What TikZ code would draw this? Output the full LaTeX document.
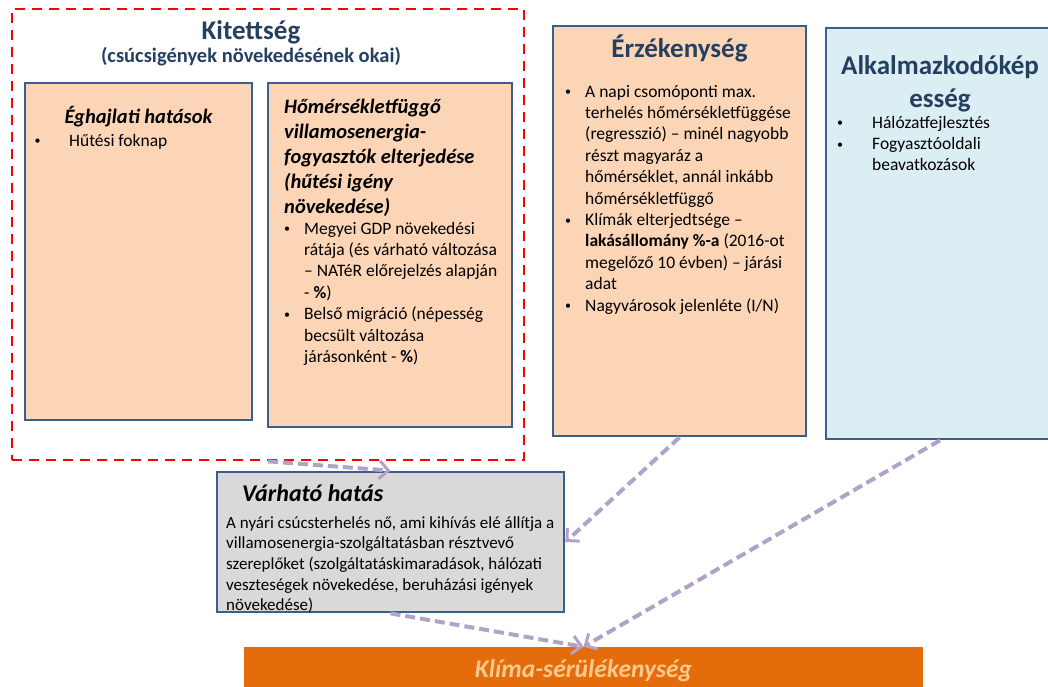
\documentclass[tikz,border=0pt]{standalone}
\usepackage{fontspec}
\setmainfont{Carlito}
\usetikzlibrary{arrows.meta}
\definecolor{peach}{HTML}{FBD5B5}
\definecolor{lblue}{HTML}{DBEEF4}
\definecolor{lgray}{HTML}{D9D9D9}
\definecolor{bord}{HTML}{3A5F8B}
\definecolor{ttl}{HTML}{243F60}
\definecolor{lav}{HTML}{B3A2C7}
\definecolor{orng}{HTML}{E46C0A}
\definecolor{klt}{HTML}{FCC88E}
\newcommand{\smallbul}{\raisebox{1.2pt}{\fontsize{12}{12}\selectfont\textbullet}}
\begin{document}
\begin{tikzpicture}[x=1pt,y=-1pt,
  box/.style={draw=bord, line width=2.7pt, inner sep=0pt},
  txt/.style={inner sep=0pt, anchor=base west},
  ctr/.style={inner sep=0pt, anchor=base},
  body/.style={font=\fontsize{17.5}{21.4}\selectfont},
  conn/.style={draw=lav, line width=4pt, dash pattern=on 10pt off 5pt,
    -{Straight Barb[length=9pt,width=18pt,line width=3pt]}}]
\useasboundingbox (0,0) rectangle (1048,686);
% boxes
\node[draw=red, line width=2.7pt, dash pattern=on 10pt off 7pt, minimum width=512pt, minimum height=451pt, inner sep=0pt] (kit) at (268,234.5) {};
\node[box, fill=peach, minimum width=227pt, minimum height=337pt] (egh) at (138.5,251.5) {};
\node[box, fill=peach, minimum width=244pt, minimum height=344pt] (hom) at (390,255) {};
\node[box, fill=peach, minimum width=253pt, minimum height=410pt] (erz) at (679.5,231) {};
\node[box, fill=lblue, minimum width=228pt, minimum height=411pt] (alk) at (940,233.5) {};
\node[box, fill=lgray, minimum width=347pt, minimum height=140pt] (varh) at (390.5,542) {};
\node[fill=orng, minimum width=679pt, minimum height=53pt, inner sep=0pt] (klima) at (583.5,673.5) {};
% texts
\node[ctr, font=\fontsize{27}{33}\selectfont\bfseries, text=ttl] (kitT) at (251,39) {Kitettség};
\node[ctr, font=\fontsize{20.5}{24}\selectfont\bfseries, text=ttl] (kitS) at (251,62) {(csúcsigények növekedésének okai)};
\node[ctr, font=\fontsize{20.5}{25}\selectfont\bfseries\itshape] (eghT) at (138.5,123) {Éghajlati hatások};
\node[txt, body] (eghB) at (34.5,146) {\begin{tabular}[t]{@{}p{34.5pt}@{}l@{}}\smallbul&Hűtési foknap\end{tabular}};
\node[txt, font=\fontsize{20.5}{25}\selectfont\bfseries\itshape] (homT) at (284,113.5) {\begin{tabular}[t]{@{}l@{}}Hőmérsékletfüggő\\villamosenergia-\\fogyasztók elterjedése\\(hűtési igény\\növekedése)\end{tabular}};
\node[txt, body] (homB) at (284,234) {\begin{tabular}[t]{@{}p{20pt}@{}l@{}}\smallbul&Megyei GDP növekedési\\&rátája (és várható változása\\&– NATéR előrejelzés alapján\\&- \textbf{\%})\\\smallbul&Belső migráció (népesség\\&becsült változása\\&járásonként - \textbf{\%})\end{tabular}};
\node[ctr, font=\fontsize{27}{33}\selectfont\bfseries, text=ttl] (erzT) at (679.5,57) {Érzékenység};
\node[txt, body] (erzB) at (565,97) {\begin{tabular}[t]{@{}p{20pt}@{}l@{}}\smallbul&A napi csomóponti max.\\&terhelés hőmérsékletfüggése\\&(regresszió) – minél nagyobb\\&részt magyaráz a\\&hőmérséklet, annál inkább\\&hőmérsékletfüggő\\\smallbul&Klímák elterjedtsége –\\&\textbf{lakásállomány \%-a} (2016-ot\\&megelőző 10 évben) – járási\\&adat\\\smallbul&Nagyvárosok jelenléte (I/N)\end{tabular}};
\node[ctr, font=\fontsize{27}{33}\selectfont\bfseries, text=ttl] (alkT) at (940,74) {\begin{tabular}[t]{@{}c@{}}Alkalmazkodókép\\esség\end{tabular}};
\node[txt, body] (alkB) at (837,128) {\begin{tabular}[t]{@{}p{35pt}@{}l@{}}\smallbul&Hálózatfejlesztés\\\smallbul&Fogyasztóoldali\\&beavatkozások\end{tabular}};
\node[txt, font=\fontsize{24}{29}\selectfont\bfseries\itshape] (varT) at (242,501) {Várható hatás};
\node[txt, font=\fontsize{17}{20.7}\selectfont] (varB) at (226,528) {\begin{tabular}[t]{@{}l@{}}A nyári csúcsterhelés nő, ami kihívás elé állítja a\\villamosenergia-szolgáltatásban résztvevő\\szereplőket (szolgáltatáskimaradások, hálózati\\veszteségek növekedése, beruházási igények\\növekedése)\end{tabular}};
\node[ctr, font=\fontsize{25.5}{30}\selectfont\bfseries\itshape, text=klt] (klimaT) at (583.5,677) {Klíma-sérülékenység};
% connectors
\draw[conn] (kit.south) -- (varh.north);
\draw[conn] (erz.south) -- (varh.east);
\draw[conn] (alk.south) -- (klima.north);
\draw[conn] (varh.south) -- (klima.north);
\end{tikzpicture}
\end{document}
